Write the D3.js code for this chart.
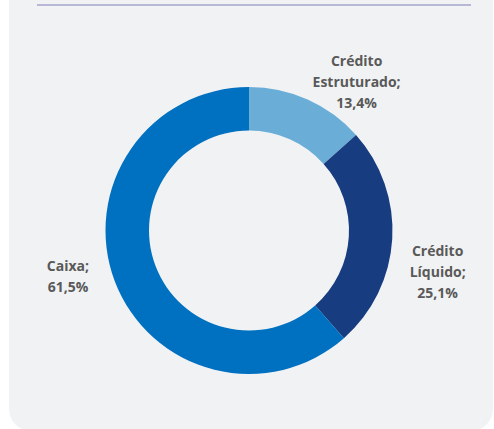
<!DOCTYPE html>
<html><head><meta charset="utf-8">
<script src="https://cdn.jsdelivr.net/npm/d3@7"></script>
<style>
html,body{margin:0;padding:0;background:#fff;}
svg{display:block;}
</style></head>
<body>
<svg id="c" width="494" height="429"></svg>
<script>
const categories = ["Crédito Estruturado", "Crédito Líquido", "Caixa"];
const labelLines = [["Crédito", "Estruturado;", "13,4%"], ["Crédito", "Líquido;", "25,1%"], ["Caixa;", "61,5%"]];
const values = [13.4, 25.1, 61.5];
const colors = ["#6aaed8", "#173c80", "#0070c0"];
const labelNudge = [[32, 20], [4, 30], [-8, -19]];

const svg = d3.select("#c");
svg.append("rect").attr("x", 9).attr("y", -40).attr("width", 484).attr("height", 471)
  .attr("rx", 22).attr("fill", "#f1f2f4");
svg.append("line").attr("x1", 37).attr("x2", 471).attr("y1", 5).attr("y2", 5)
  .attr("stroke", "#b7b7d6").attr("stroke-width", 2);

const cx = 249, cy = 230.5, R = 143.5, r = 100;
const g = svg.append("g").attr("transform", `translate(${cx},${cy})`);
const pie = d3.pie().sort(null).value(d => d);
const arcs = pie(values);
const arc = d3.arc().innerRadius(r).outerRadius(R);
g.selectAll("path").data(arcs).enter().append("path")
  .attr("d", arc).attr("fill", (d, i) => colors[i]);

const lab = d3.arc().innerRadius(185).outerRadius(185);
const lh = 21;
arcs.forEach((d, i) => {
  const [x, y] = lab.centroid(d);
  const lines = labelLines[i];
  const n = lines.length;
  const t = g.append("text").attr("text-anchor", "middle")
    .attr("font-family", "'Open Sans', sans-serif").attr("font-weight", "bold")
    .attr("font-size", 14).attr("fill", "#595959");
  lines.forEach((s, j) => {
    t.append("tspan").attr("x", x + labelNudge[i][0])
      .attr("y", y + labelNudge[i][1] + (j - (n - 1) / 2) * lh + 5).text(s);
  });
});
</script>
</body></html>
